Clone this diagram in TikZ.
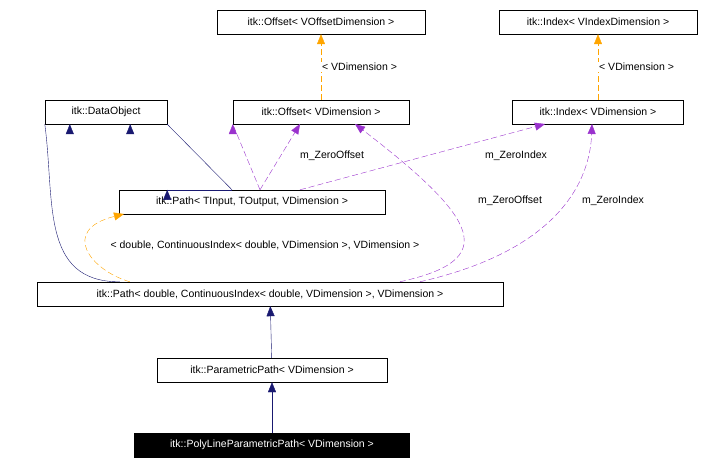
\documentclass[tikz,border=0pt]{standalone}
\usepackage{fontspec}
\setmainfont{Liberation Sans}
\usetikzlibrary{arrows.meta}
\begin{document}
\begin{tikzpicture}[x=1pt,y=-1pt,font=\fontsize{10.5}{12}\selectfont,
 box/.style={draw,inner sep=0pt,minimum height=24pt},
 inh/.style={draw=navy,-{Triangle[length=10pt,width=8pt]}},
 tpl/.style={draw=orange,dashed,dash pattern=on 6pt off 3pt,-{Triangle[length=10pt,width=8pt]}},
 use/.style={draw=purp,dashed,dash pattern=on 6pt off 3pt,-{Triangle[length=10pt,width=8pt]}},
 lbl/.style={inner sep=1pt}]
\definecolor{navy}{RGB}{25,25,112}
\definecolor{orange}{RGB}{255,165,0}
\definecolor{purp}{RGB}{154,50,205}
\useasboundingbox (0,0) rectangle (707,468);
\node[box,minimum width=208pt] (ovo) at (321,22) {itk::Offset< VOffsetDimension >};
\node[box,minimum width=198pt] (ivi) at (598,22) {itk::Index< VIndexDimension >};
\node[box,minimum width=122pt] (dob) at (106,112) {itk::DataObject};
\node[box,minimum width=176pt] (ov) at (321,112) {itk::Offset< VDimension >};
\node[box,minimum width=171pt] (iv) at (598,112) {itk::Index< VDimension >};
\node[box,minimum width=266pt] (pt) at (252,202) {itk::Path< TInput, TOutput, VDimension >};
\node[box,minimum width=466pt] (pd) at (270,294) {itk::Path< double, ContinuousIndex< double, VDimension >, VDimension >};
\node[box,minimum width=230pt] (pp) at (272,370) {itk::ParametricPath< VDimension >};
\node[box,minimum width=275pt,fill=black,text=white] (pl) at (272,445) {itk::PolyLineParametricPath< VDimension >};

\draw[tpl] (ov) -- node[lbl,right,fill=white] {< VDimension >} (ovo);
\draw[tpl] (iv) -- node[lbl,right,fill=white] {< VDimension >} (ivi);
\draw[inh] (pt.north) ++(-20,0) coordinate (a) -- (a-|dob.east) ++(0,0);
\path (pt.north) ++(-20,0) coordinate (pta);
\draw[inh] (pta) -- (dob.south east) ++(-37,0);
\draw[inh] (pd.north west) ++(83,0) coordinate (pdb) .. controls (40,282) and (55,200) .. (dob.south west) ++(25,0);
\draw[use] (pt.north) ++(8,0) coordinate (ptb) -- (ov.south west) ++(0,0);
\draw[use] (ptb) -- (300,124);
\node[lbl] (l1) at (332,156) {m\_ZeroOffset};
\draw[use] (pt.north) ++(48,0) coordinate (ptc) -- (545,124);
\node[lbl] (l2) at (516,156) {m\_ZeroIndex};
\draw[tpl] (pd.north west) ++(93,0) coordinate (pdc) .. controls (90,270) and (60,230) .. (124,214);
\node[lbl] (l3) at (265,245) {< double, ContinuousIndex< double, VDimension >, VDimension >};
\draw[use] (pd.north west) ++(363,0) coordinate (pdd) .. controls (500,260) and (480,220) .. (355,124);
\node[lbl] (l4) at (510,201) {m\_ZeroOffset};
\draw[use] (pd.north west) ++(383,0) coordinate (pde) .. controls (560,250) and (590,180) .. (592,124);
\node[lbl] (l5) at (613,201) {m\_ZeroIndex};
\draw[inh] (pp) -- (pd);
\draw[inh] (pl) -- (pp);
\end{tikzpicture}
\end{document}
